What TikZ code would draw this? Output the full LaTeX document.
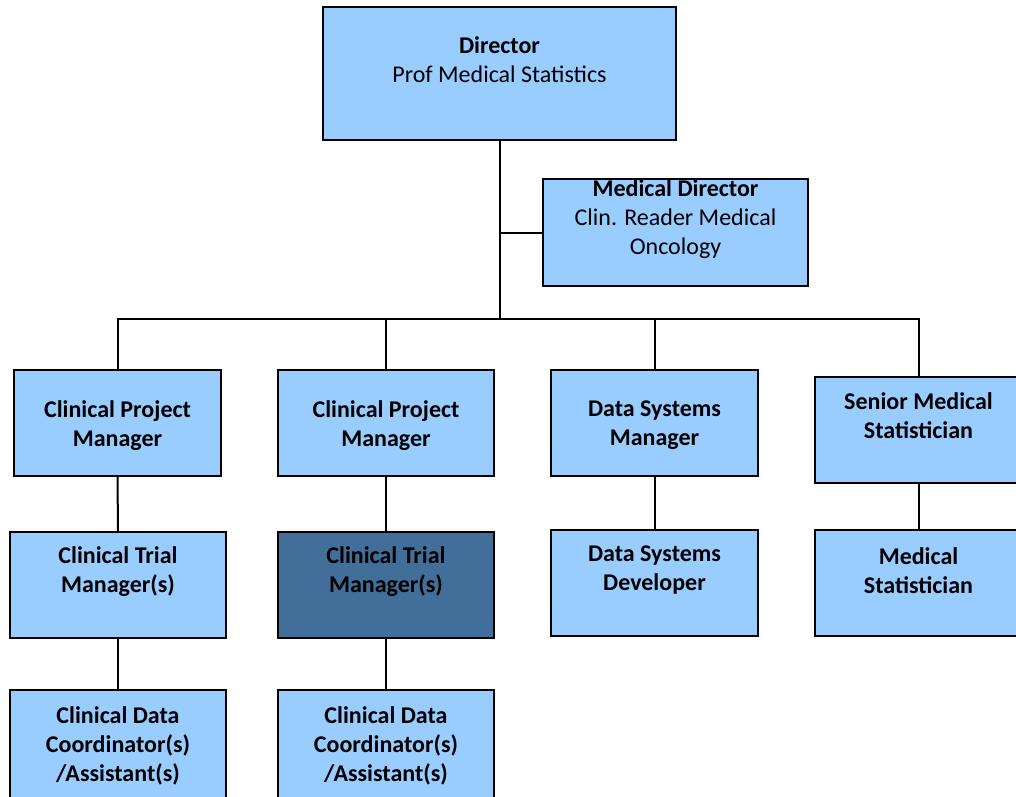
\documentclass[tikz,border=0pt]{standalone}
\usepackage{fontspec}
\setmainfont{Carlito}
\definecolor{lightbox}{HTML}{99CCFF}
\definecolor{darkbox}{HTML}{426F9A}
\begin{document}
\begin{tikzpicture}[x=1pt,y=-1pt,
  box/.style={draw=black, line width=1.6pt, fill=lightbox, rectangle, inner sep=0pt},
  dbox/.style={box, fill=darkbox},
  txt/.style={align=center, inner sep=0pt, font=\fontsize{24}{29}\selectfont},
  link/.style={draw=black, line width=2pt}]
\useasboundingbox (0,0) rectangle (1016,796);
\clip (0,0) rectangle (1016,796);
% boxes
\node[box, minimum width=353pt, minimum height=133pt] (dir) at (499.5,73.5) {};
\node[txt] (dirt) at (499.5,60) {\textbf{Director}\\Prof Medical Statistics};
\node[box, minimum width=265pt, minimum height=107pt] (md) at (675.5,232.5) {};
\node[txt] (mdt) at (675.5,219) {\textbf{Medical Director}\\Clin. Reader Medical\\Oncology};
\node[box, minimum width=207pt, minimum height=106pt] (cpm1) at (117.5,423) {};
\node[txt] (cpm1t) at (117.5,425.5) {\textbf{Clinical Project}\\\textbf{Manager}};
\node[box, minimum width=216pt, minimum height=106pt] (cpm2) at (386,423) {};
\node[txt] (cpm2t) at (386,425.5) {\textbf{Clinical Project}\\\textbf{Manager}};
\node[box, minimum width=207pt, minimum height=106pt] (dsm) at (654.5,423) {};
\node[txt] (dsmt) at (654.5,425.5) {\textbf{Data Systems}\\\textbf{Manager}};
\node[box, minimum width=207pt, minimum height=106pt] (sms) at (918.5,430) {};
\node[txt] (smst) at (918.5,416) {\textbf{Senior Medical}\\\textbf{Statistician}};
\node[box, minimum width=216pt, minimum height=106pt] (ctm1) at (118,585) {};
\node[txt] (ctm1t) at (118,572) {\textbf{Clinical Trial}\\\textbf{Manager(s)}};
\node[dbox, minimum width=216pt, minimum height=106pt] (ctm2) at (386,585) {};
\node[txt] (ctm2t) at (386,572) {\textbf{Clinical Trial}\\\textbf{Manager(s)}};
\node[box, minimum width=207pt, minimum height=106pt] (dsd) at (654.5,583) {};
\node[txt] (dsdt) at (654.5,570.5) {\textbf{Data Systems}\\\textbf{Developer}};
\node[box, minimum width=207pt, minimum height=106pt] (ms) at (918.5,583) {};
\node[txt] (mst) at (918.5,570.5) {\textbf{Medical}\\\textbf{Statistician}};
\node[box, minimum width=216pt, minimum height=140pt] (cdc1) at (118,760) {};
\node[txt] (cdc1t) at (118,745.5) {\textbf{Clinical Data}\\\textbf{Coordinator(s)}\\\textbf{/Assistant(s)}};
\node[box, minimum width=216pt, minimum height=140pt] (cdc2) at (386,760) {};
\node[txt] (cdc2t) at (386,745.5) {\textbf{Clinical Data}\\\textbf{Coordinator(s)}\\\textbf{/Assistant(s)}};
% bus
\coordinate (busL) at (117.5,319);
\coordinate (busR) at (918.5,319);
\draw[link] (dir.south) -- (dir.south |- busL);
\draw[link] (dir.south |- md.west) -- (md.west);
\draw[link] ([xshift=-1pt]busL) -- ([xshift=1pt]busR);
\draw[link] (busL) -- (cpm1.north);
\draw[link] (cpm2.north |- busL) -- (cpm2.north);
\draw[link] (dsm.north |- busL) -- (dsm.north);
\draw[link] (busR) -- (sms.north);
\draw[link] (cpm1.south) -- (ctm1.north);
\draw[link] (cpm2.south) -- (ctm2.north);
\draw[link] (dsm.south) -- (dsd.north);
\draw[link] (sms.south) -- (ms.north);
\draw[link] (ctm1.south) -- (cdc1.north);
\draw[link] (ctm2.south) -- (cdc2.north);
\end{tikzpicture}
\end{document}
